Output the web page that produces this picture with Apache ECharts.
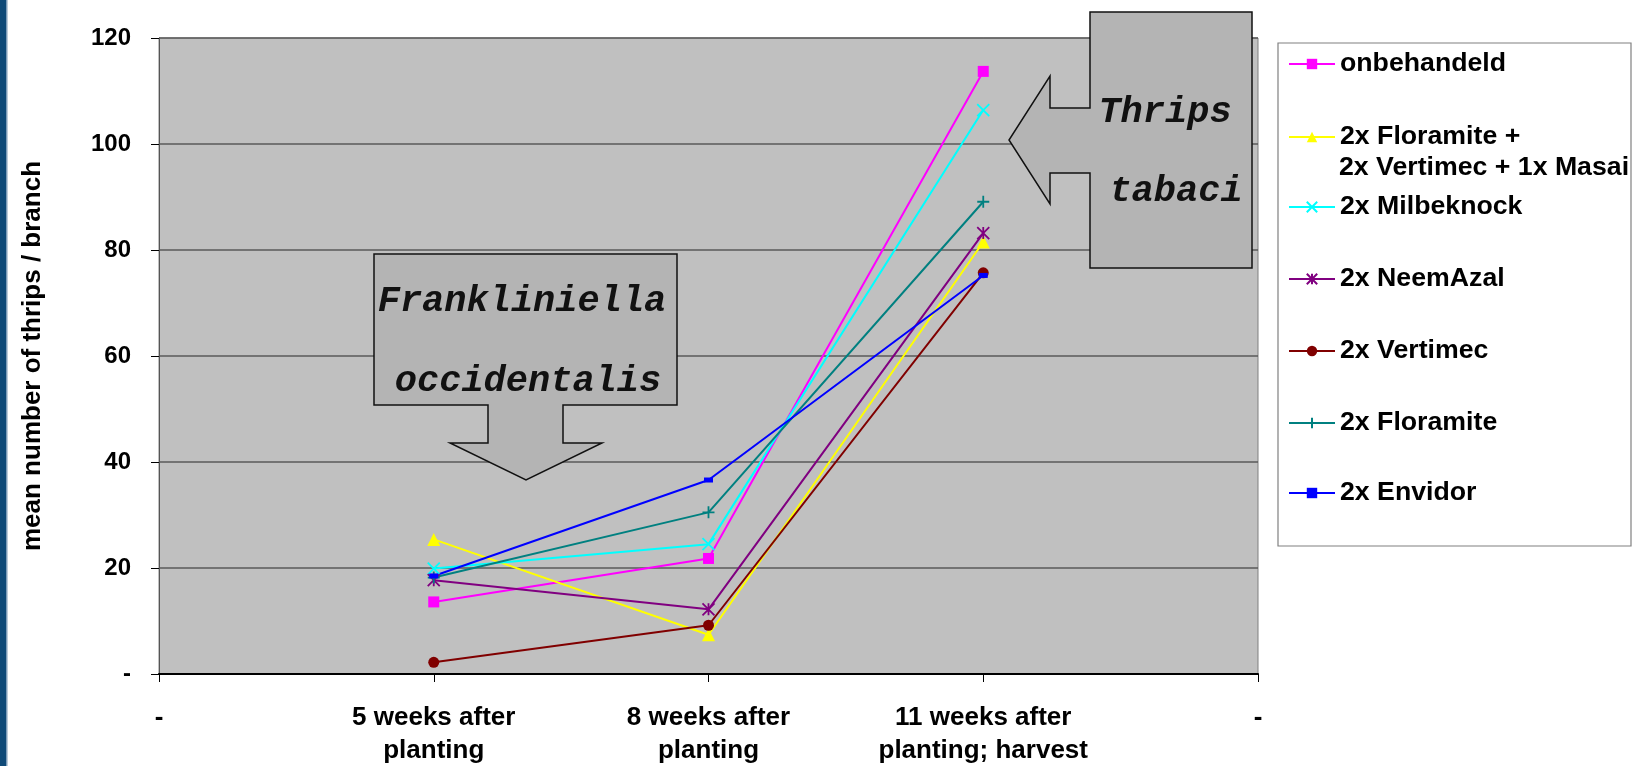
<!DOCTYPE html>
<html><head><meta charset="utf-8">
<script src="https://cdn.jsdelivr.net/npm/echarts@6/dist/echarts.min.js"></script>
<style>html,body{margin:0;padding:0;background:#fff}#c{width:1639px;height:766px}</style>
</head><body><div id="c"></div>
<script>
// ---- data ----
const categories = ['-', '5 weeks after\nplanting', '8 weeks after\nplanting', '11 weeks after\nplanting; harvest', '-'];
const seriesNames = ['onbehandeld', '2x Floramite + 2x Vertimec + 1x Masai', '2x Milbeknock', '2x NeemAzal', '2x Vertimec', '2x Floramite', '2x Envidor'];
const legendLines = [['onbehandeld'], ['2x Floramite +', '2x Vertimec + 1x Masai'], ['2x Milbeknock'], ['2x NeemAzal'], ['2x Vertimec'], ['2x Floramite'], ['2x Envidor']];
const onbehandeld    = [null, 13.6, 21.8, 113.7, null];
const floraVertMasai = [null, 25.4, 7.4, 81.5, null];
const milbeknock     = [null, 19.9, 24.5, 106.4, null];
const neemazal       = [null, 17.7, 12.2, 83.2, null];
const vertimec       = [null, 2.2, 9.2, 75.7, null];
const floramite      = [null, 18.2, 30.5, 89.1, null];
const envidor        = [null, 18.5, 36.6, 75.2, null];
const yMin = 0, yMax = 120, yStep = 20;
const yAxisTitle = 'mean number of thrips / branch';
const note1 = ['Frankliniella', 'occidentalis'];
const note2 = ['Thrips', 'tabaci'];

// ---- styles ----
const colors = ['#FF00FF', '#FFFF00', '#00FFFF', '#800080', '#800000', '#008080', '#0000FF'];
const symbols = ['rect', 'triangle', 'path://M0,0L10,10M10,0L0,10', 'path://M0,0L10,10M10,0L0,10M5,0L5,10', 'circle', 'path://M5,0L5,10M0,5L10,5', 'rect'];
const symSizes = [11, 13, 12, 12, 11, 12, [9, 5]];
const strokeSym = [false, false, true, true, false, true, false];
const allData = [onbehandeld, floraVertMasai, milbeknock, neemazal, vertimec, floramite, envidor];
const legendCenters = [64, 137, 207, 279, 351, 423, 493];
const legendLine2 = 168;
const F = '"Liberation Sans", Arial, sans-serif';

const series = allData.map((d, i) => ({
  type: 'line', name: seriesNames[i], data: d,
  symbol: symbols[i], symbolSize: symSizes[i], showSymbol: true,
  lineStyle: { color: colors[i], width: 2 },
  itemStyle: strokeSym[i] ? { color: colors[i], borderColor: colors[i], borderWidth: 1.8 } : { color: colors[i], borderWidth: 0 },
  emphasis: { disabled: true }
}));

const txt = { fontSize: 26.7, fontWeight: 'bold', color: '#000', fontFamily: F, lineHeight: 30 };
const legends = seriesNames.map((n, i) => ({
  orient: 'vertical', left: 1288, top: legendCenters[i] - 15, padding: 0,
  itemWidth: 46, itemHeight: 13, selectedMode: false,
  data: [n], formatter: () => legendLines[i][0], textStyle: txt
}));
legends.push({
  orient: 'vertical', left: 1288, top: legendLine2 - 15, padding: 0,
  itemWidth: 46, itemHeight: 13, selectedMode: false,
  data: [{ name: seriesNames[1], icon: 'none' }], formatter: () => legendLines[1][1], textStyle: txt
});

const monoFont = 'italic bold 37px "Liberation Mono", "Courier New", monospace';
const calloutStyle = { fill: '#B4B4B4', stroke: '#111', lineWidth: 1.5 };

const option = {
  animation: false,
  backgroundColor: '#fff',
  grid: { left: 159, right: 381, top: 38, bottom: 92, outerBoundsMode: 'none', containLabel: false, show: true, backgroundColor: '#C0C0C0', borderColor: '#808080', borderWidth: 1 },
  legend: legends,
  xAxis: {
    type: 'category', data: categories, boundaryGap: false,
    axisLine: { lineStyle: { color: '#000', width: 2 } },
    axisTick: { show: true, length: 8, lineStyle: { color: '#000', width: 1 } },
    axisLabel: { interval: 0, fontSize: 26, fontWeight: 'bold', color: '#000', fontFamily: F, margin: 27, lineHeight: 33 },
    splitLine: { show: false }
  },
  yAxis: {
    type: 'value', min: yMin, max: yMax, interval: yStep,
    name: yAxisTitle, nameLocation: 'middle', nameRotate: 90, nameGap: 113,
    nameTextStyle: { fontSize: 26, fontWeight: 'bold', color: '#000', fontFamily: F },
    axisLine: { show: true, lineStyle: { color: '#555', width: 1 } },
    axisTick: { show: true, length: 8, lineStyle: { color: '#000' } },
    axisLabel: { fontSize: 24, fontWeight: 'bold', color: '#000', fontFamily: F, margin: 28, formatter: v => v === 0 ? '-' : String(v) },
    splitLine: { lineStyle: { color: '#5a5a5a', width: 1.5 } }
  },
  graphic: [
    { type: 'rect', shape: { x: 0, y: 0, width: 6, height: 766 }, style: { fill: '#0f4a78' }, z: 0 },
    { type: 'rect', shape: { x: 6, y: 0, width: 1.5, height: 766 }, style: { fill: '#7d9cb8' }, z: 0 },
    { type: 'rect', shape: { x: 1278, y: 43, width: 353, height: 503 }, style: { fill: '#fff', stroke: '#808080', lineWidth: 1.2 }, z: 0 },
    { type: 'polygon', z: 100, shape: { points: [[374,254],[677,254],[677,405],[563,405],[563,443],[602,443],[526,480],[450,443],[488,443],[488,405],[374,405]] }, style: calloutStyle },
    { type: 'polygon', z: 100, shape: { points: [[1090,12],[1252,12],[1252,268],[1090,268],[1090,173],[1050,173],[1050,204],[1009,140],[1050,76],[1050,108],[1090,108]] }, style: calloutStyle },
    { type: 'text', z: 101, x: 522, y: 302, style: { text: note1[0], font: monoFont, fill: '#111', textAlign: 'center', textVerticalAlign: 'middle' } },
    { type: 'text', z: 101, x: 528, y: 382, style: { text: note1[1], font: monoFont, fill: '#111', textAlign: 'center', textVerticalAlign: 'middle' } },
    { type: 'text', z: 101, x: 1165, y: 113, style: { text: note2[0], font: monoFont, fill: '#111', textAlign: 'center', textVerticalAlign: 'middle' } },
    { type: 'text', z: 101, x: 1176, y: 192, style: { text: note2[1], font: monoFont, fill: '#111', textAlign: 'center', textVerticalAlign: 'middle' } }
  ],
  series
};
const chart = echarts.init(document.getElementById('c'), null, { renderer: 'canvas' });
chart.setOption(option);
</script></body></html>
